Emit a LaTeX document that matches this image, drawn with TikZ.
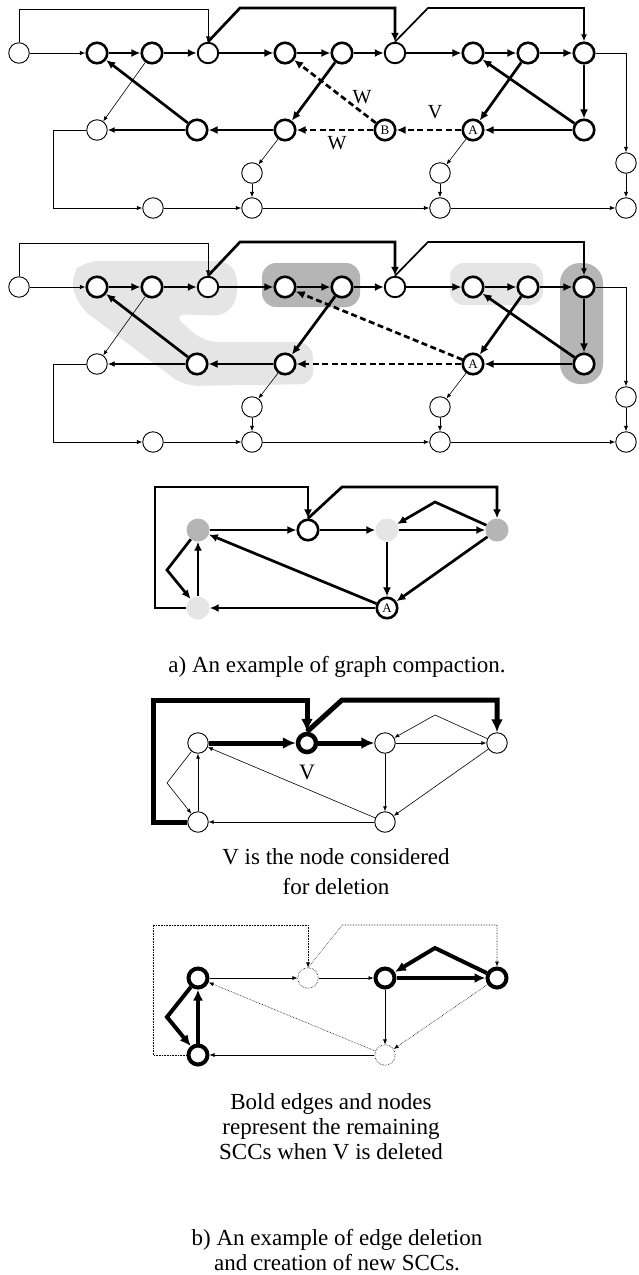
\documentclass[tikz,border=0pt]{standalone}
\usepackage{fontspec}
\setmainfont{Liberation Serif}
\usetikzlibrary{arrows.meta}
\tikzset{
  nd/.style={circle, minimum size=20.5pt, inner sep=0pt, fill=white, draw=black},
  thn/.style={nd, line width=0.9pt},
  bdn/.style={nd, line width=2.6pt},
  mdn/.style={nd, line width=1.9pt},
  hvn/.style={nd, line width=4pt, minimum size=19pt},
  dotn/.style={nd, line width=0.6pt, densely dotted},
  shn/.style={nd, draw=none, minimum size=23pt},
  lab/.style={font=\fontsize{13}{13}\selectfont},
  bigtxt/.style={font=\fontsize{20}{20}\selectfont},
  captxt/.style={font=\fontsize{23}{25}\selectfont, align=center},
  fe/.style={line width=0.6pt, -{Latex[length=5pt,width=4pt]}},
  te/.style={line width=0.9pt, -{Latex[length=5.5pt,width=4.5pt]}},
  me/.style={line width=1.7pt, -{Latex[length=7pt,width=6pt]}},
  be/.style={line width=2.7pt, -{Latex[length=9pt,width=8pt]}},
  de/.style={be, dash pattern=on 6pt off 3.5pt},
  he/.style={line width=4pt, -{Latex[length=11pt,width=10pt]}},
  ve/.style={line width=5pt, -{Latex[length=13pt,width=12pt]}},
  fdot/.style={line width=0.6pt, densely dotted, -{Latex[length=5pt,width=4pt]}},
  darkblob/.style={fill=gray!58},
  liteblob/.style={fill=gray!20},
}
% common part of the two large graphs; #1 is a prefix for node names
\newcommand\basegraph[1]{%
  \node[thn] (#1n0) at (19,53) {};
  \node[bdn] (#1n1) at (97,53) {};
  \node[bdn] (#1n2) at (152,53) {};
  \node[mdn] (#1n3) at (208,53) {};
  \node[bdn] (#1n4) at (285,53) {};
  \node[bdn] (#1n5) at (342,53) {};
  \node[mdn] (#1n6) at (395,53) {};
  \node[bdn] (#1n7) at (473,53) {};
  \node[bdn] (#1n8) at (528,53) {};
  \node[bdn] (#1n9) at (584,53) {};
  \node[thn] (#1l1) at (97,130) {};
  \node[bdn] (#1l2) at (197,130) {};
  \node[bdn] (#1l3) at (285,130) {};
  \node[bdn,lab] (#1a) at (473,130) {A};
  \node[bdn] (#1n10) at (584,130) {};
  \node[thn] (#1m1) at (252,173) {};
  \node[thn] (#1m2) at (252,208) {};
  \node[thn] (#1m3) at (440,173) {};
  \node[thn] (#1m4) at (440,208) {};
  \node[thn] (#1b1) at (153,208) {};
  \node[thn] (#1r1) at (626,163) {};
  \node[thn] (#1r2) at (626,208) {};
  % upper row
  \draw[te] (#1n0) -- (#1n1);
  \draw[be] (#1n1) -- (#1n2);
  \draw[be] (#1n2) -- (#1n3);
  \draw[be] (#1n3) -- (#1n4);
  \draw[be] (#1n4) -- (#1n5);
  \draw[be] (#1n5) -- (#1n6);
  \draw[be] (#1n6) -- (#1n7);
  \draw[be] (#1n7) -- (#1n8);
  \draw[be] (#1n8) -- (#1n9);
  % long edges over the top
  \draw[te] (#1n0) |- (208,9) -- (#1n3);
  \draw[be] (#1n3.north) -- (240,8) -- (395,8) -- (#1n6);
  \draw[me] (#1n6.north) -- (428,8) -- (584,8) -- (#1n9);
  % strongly connected part
  \draw[be] (#1n9) -- (#1n10);
  \draw[be] (#1n10) -- (#1a);
  \draw[be] (#1n10) -- (#1n7);
  \draw[be] (#1n8) -- (#1a);
  \draw[be] (#1n5) -- (#1l3);
  \draw[be] (#1l3) -- (#1l2);
  \draw[be] (#1l2) -- (#1n1);
  \draw[me] (#1l2) -- (#1l1);
  % thin tail
  \draw[fe] (#1n2) -- (#1l1);
  \draw[fe] (#1l3) -- (#1m1);
  \draw[fe] (#1a) -- (#1m3);
  \draw[te] (#1m1) -- (#1m2);
  \draw[te] (#1m3) -- (#1m4);
  \draw[te] (#1l1) -- (53,130) |- (#1b1);
  \draw[te] (#1b1) -- (#1m2);
  \draw[te] (#1m2) -- (#1m4);
  \draw[te] (#1m4) -- (#1r2);
  \draw[te] (#1n9) -| (#1r1);
  \draw[te] (#1r1) -- (#1r2);
}
\begin{document}
\begin{tikzpicture}[x=1pt,y=-1pt]
\useasboundingbox[fill=white] (0,0) rectangle (638,1275);

% ---- graph with candidate nodes A and B
\basegraph{p}
\node[bdn,lab] (pb) at (385,130) {B};
\draw[de] (pa) -- (pb);
\draw[de] (pb) -- (pn4);
\draw[de] (pb) -- (pl3);
\node[bigtxt] (pw1) at (362,97) {W};
\node[bigtxt] (pv) at (435,112) {V};
\node[bigtxt] (pw2) at (337,143) {W};

% ---- same graph with its components shaded
\begin{scope}[shift={(0,234)}]
  \fill[liteblob, rounded corners=14pt] (70,42) -- (84,27) -- (232,27) -- (240,56)
    -- (228,82) -- (172,80) -- (204,108) -- (312,108) -- (314,150) -- (184,152)
    -- (78,72) -- cycle;
  \fill[darkblob, rounded corners=14pt] (262,29) rectangle (360,73);
  \fill[liteblob, rounded corners=14pt] (450,29) rectangle (543,71);
  \fill[darkblob, rounded corners=20pt] (560,29) rectangle (603,150);
  \basegraph{q}
  \draw[de] (qa) -- (qn4);
  \draw[de] (qa) -- (ql3);
\end{scope}

% ---- compacted graph
\node[shn, fill=gray!58] (ctl) at (198,530) {};
\node[bdn] (cw) at (308,530) {};
\node[shn, fill=gray!20] (cl) at (387,530) {};
\node[shn, fill=gray!58] (cr) at (497,530) {};
\node[shn, fill=gray!20] (cbl) at (198,608) {};
\node[bdn,lab] (ca) at (387,608) {A};
\draw[be] (cbl) -- (155,608) -- (155,487) -- (308,487) -- (cw);
\draw[be] (cw.north) -- (342,487) -- (497,487) -- (cr);
\draw[be] (ctl) -- (cw);
\draw[be] (cw) -- (cl);
\draw[be] (cl) -- (cr);
\draw[be] (cr) -- (435,502) -- (cl);
\draw[be] (cl) -- (ca);
\draw[be] (cr) -- (ca);
\draw[be] (ca) -- (ctl);
\draw[be] (ca) -- (cbl);
\draw[be] (cbl) -- (ctl);
\draw[be] (ctl) -- (167,570) -- (cbl);
\node[captxt] (capa) at (337,667) {a) An example of graph compaction.};

% ---- node V considered for deletion
\node[thn] (dtl) at (198,743) {};
\node[nd, line width=4.5pt, minimum size=18pt] (dv) at (307,743) {};
\node[thn] (d3) at (385,743) {};
\node[thn] (d4) at (497,743) {};
\node[thn] (dbl) at (198,822) {};
\node[thn] (d6) at (385,822) {};
\draw[ve] (dbl) -- (153,822) -- (153,700) -- (307,700) -- (dv);
\draw[ve] (dv.north) -- (342,700) -- (497,700) -- (d4);
\draw[ve] (dtl) -- (dv);
\draw[ve] (dv) -- (d3);
\draw[fe] (d3) -- (d4);
\draw[fe] (d4) -- (435,715) -- (d3);
\draw[fe] (d3) -- (d6);
\draw[fe] (d4) -- (d6);
\draw[fe] (d6) -- (dtl);
\draw[fe] (d6) -- (dbl);
\draw[fe] (dbl) -- (dtl);
\draw[fe] (dtl) -- (167,783) -- (dbl);
\node[font=\fontsize{22}{22}\selectfont] (dvl) at (307,772) {V};
\node[captxt] (capv) at (336,872) {V is the node considered\\[5pt]for deletion};

% ---- remaining components after deleting V
\node[hvn] (etl) at (198,978) {};
\node[dotn] (em) at (308,978) {};
\node[hvn] (e3) at (385,978) {};
\node[hvn] (e4) at (497,978) {};
\node[hvn] (ebl) at (198,1055) {};
\node[dotn] (e6) at (385,1055) {};
\draw[fdot] (ebl) -- (153,1055) -- (153,925) -- (308,925) -- (em);
\draw[fdot] (em.north) -- (342,925) -- (497,925) -- (e4);
\draw[fe] (etl) -- (em);
\draw[fe] (em) -- (e3);
\draw[fe] (e3) -- (e6);
\draw[fe] (e6) -- (ebl);
\draw[fdot] (e4) -- (e6);
\draw[fdot] (e6) -- (etl);
\draw[he] (e3) -- (e4);
\draw[he] (e4) -- (435,948) -- (e3);
\draw[he] (ebl) -- (etl);
\draw[he] (etl) -- (167,1017) -- (ebl);
\node[captxt] (capb1) at (331,1127) {Bold edges and nodes\\represent the remaining\\SCCs when V is deleted};
\node[captxt] (capb2) at (337,1250) {b) An example of edge deletion\\and creation of new SCCs.};
\end{tikzpicture}
\end{document}
